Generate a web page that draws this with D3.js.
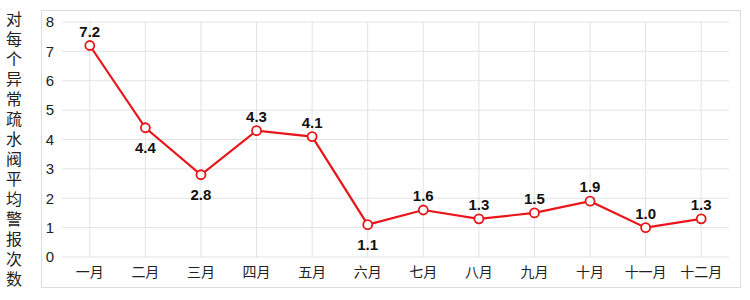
<!DOCTYPE html>
<html>
<head>
<meta charset="utf-8">
<script src="https://cdn.jsdelivr.net/npm/d3@7"></script>
<style>
  body { margin: 0; background: #fff; }
  text { font-family: "Liberation Sans", Arial, "Noto Sans CJK SC", sans-serif; }
</style>
</head>
<body>
<div id="chart"></div>
<script>
const months = ['一月', '二月', '三月', '四月', '五月', '六月', '七月', '八月', '九月', '十月', '十一月', '十二月'];
const values = [7.2, 4.4, 2.8, 4.3, 4.1, 1.1, 1.6, 1.3, 1.5, 1.9, 1.0, 1.3];
const labelBelow = [false, true, true, false, false, true, false, false, false, false, false, false];
const yTicks = [0, 1, 2, 3, 4, 5, 6, 7, 8];
const yTitle = '对每个异常疏水阀平均警报次数';

const width = 750;
const height = 300;
const plot = { left: 62, right: 729, top: 22, bottom: 257 };

const svg = d3.select('#chart').append('svg')
  .attr('width', width)
  .attr('height', height);

// outer frame
svg.append('rect')
  .attr('x', 41.5).attr('y', 10.5)
  .attr('width', 699).attr('height', 277)
  .attr('fill', 'none')
  .attr('stroke', '#dcdcdc');

const xScale = d3.scalePoint().domain(months).range([plot.left, plot.right]).padding(0.5);
const yScale = d3.scaleLinear().domain([0, 8]).range([plot.bottom, plot.top]);

// gridlines
svg.append('g')
  .selectAll('line')
  .data(yTicks)
  .join('line')
  .attr('x1', plot.left).attr('x2', plot.right)
  .attr('y1', d => yScale(d)).attr('y2', d => yScale(d))
  .attr('stroke', '#e3e3e3');

svg.append('g')
  .selectAll('line')
  .data(months)
  .join('line')
  .attr('x1', d => xScale(d)).attr('x2', d => xScale(d))
  .attr('y1', plot.top).attr('y2', plot.bottom)
  .attr('stroke', '#e3e3e3');

// y tick labels
svg.append('g')
  .selectAll('text')
  .data(yTicks)
  .join('text')
  .attr('x', 50)
  .attr('y', d => yScale(d))
  .attr('dy', '0.35em')
  .attr('text-anchor', 'middle')
  .attr('font-size', 15)
  .attr('fill', '#222')
  .text(d => d);

// x tick labels
svg.append('g')
  .selectAll('text')
  .data(months)
  .join('text')
  .attr('x', d => xScale(d))
  .attr('y', 272)
  .attr('dy', '0.35em')
  .attr('text-anchor', 'middle')
  .attr('font-size', 14)
  .attr('fill', '#222')
  .text(d => d);

// y title, one character per line
svg.append('g')
  .selectAll('text')
  .data(Array.from(yTitle))
  .join('text')
  .attr('x', 14)
  .attr('y', (d, i) => 19 + i * 20)
  .attr('dy', '0.35em')
  .attr('text-anchor', 'middle')
  .attr('font-size', 16)
  .attr('fill', '#222')
  .text(d => d);

// line
const line = d3.line()
  .x((d, i) => xScale(months[i]))
  .y(d => yScale(d));

svg.append('path')
  .datum(values)
  .attr('d', line)
  .attr('fill', 'none')
  .attr('stroke', '#e8161b')
  .attr('stroke-width', 2.2);

svg.append('g')
  .selectAll('circle')
  .data(values)
  .join('circle')
  .attr('cx', (d, i) => xScale(months[i]))
  .attr('cy', d => yScale(d))
  .attr('r', 4.5)
  .attr('fill', '#fff')
  .attr('stroke', '#e8161b')
  .attr('stroke-width', 1.8);

// value labels
svg.append('g')
  .selectAll('text')
  .data(values)
  .join('text')
  .attr('x', (d, i) => xScale(months[i]))
  .attr('y', (d, i) => yScale(d) + (labelBelow[i] ? 20 : -14))
  .attr('dy', '0.35em')
  .attr('text-anchor', 'middle')
  .attr('font-size', 15)
  .attr('font-weight', 'bold')
  .attr('fill', '#111')
  .text(d => d.toFixed(1));
</script>
</body>
</html>
